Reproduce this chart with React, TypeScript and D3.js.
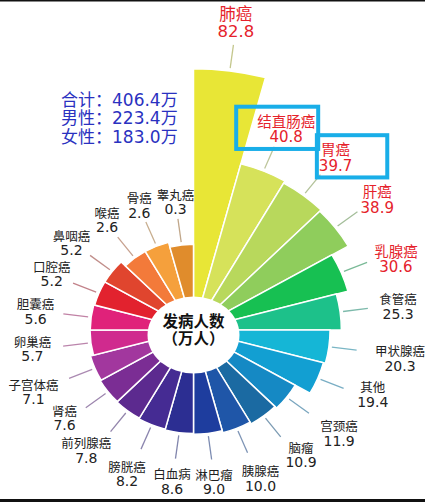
import React from 'react';
import * as d3 from 'd3';

const categories = ['肺癌','结直肠癌','胃癌','肝癌','乳腺癌','食管癌','甲状腺癌','其他','宫颈癌','脑瘤','胰腺癌','淋巴瘤','白血病','膀胱癌','前列腺癌','肾癌','子宫体癌','卵巢癌','胆囊癌','口腔癌','鼻咽癌','喉癌','骨癌','睾丸癌'];
const values = [82.8,40.8,39.7,38.9,30.6,25.3,20.3,19.4,11.9,10.9,10.0,9.0,8.6,8.2,7.8,7.6,7.1,5.7,5.6,5.2,5.2,2.6,2.6,0.3];
const colors = ['#e8e636','#d6e25a','#b8d85c','#8fcd5c','#17c052','#1dc18a','#15b6d6','#129fd2','#1589c4','#1b6aa2','#1f56a8','#1e3d9e','#2c2e92','#452b93','#5c2a8f','#7b2d94','#a2379e','#d02a8e','#e0227a','#e2222e','#e0452e','#f37a3a','#f5a03c','#e08c2c'];
const redLabels = ['肺癌','结直肠癌','胃癌','肝癌','乳腺癌'];
const boxedLabels = ['结直肠癌','胃癌'];
const summaryNames = ['合计','男性','女性'];
const summaryValues = [406.4, 223.4, 183.0];
const centerTitle = ['发病人数','（万人）'];

const W = 425, H = 502, CX = 193.5, CY = 330, SY = 0.94;
const FONT = "'DejaVu Sans','Noto Sans CJK SC',sans-serif";

// hand-placed label adjustments (layout only)
const labelNudge: Record<string, [number, number]> = {
  '肺癌': [0, -5], '结直肠癌': [2, 5.5], '胃癌': [1, 1], '肝癌': [1, 2], '乳腺癌': [3.5, 7],
  '食管癌': [8, 1], '甲状腺癌': [15, 5], '其他': [9, -1.5], '宫颈癌': [10, 6], '脑瘤': [6.5, 1.5],
  '胰腺癌': [4.5, 7], '淋巴瘤': [0, 5.5], '白血病': [-1, 6], '膀胱癌': [-5.5, 6], '前列腺癌': [-7, -2],
  '肾癌': [-5, -1], '子宫体癌': [-7.5, 3], '卵巢癌': [-8.5, 0.5], '胆囊癌': [-5.5, 0.5], '口腔癌': [1.5, 0],
  '鼻咽癌': [1.5, 2.5], '喉癌': [2, -1.5], '骨癌': [1, 1], '睾丸癌': [0, 0.5],
};
// annotation box padding: [left, right]
const boxPad: Record<string, [number, number]> = { '结直肠癌': [21, 3], '胃癌': [2, 35] };

function numWidth(s: string, f: number) {
  let w = 0;
  for (const ch of s) w += ch === '.' ? 0.318 * f : 0.636 * f;
  return w;
}

export default function App() {
  const angle = d3.scaleBand<string>().domain(categories).range([0, 2 * Math.PI]).padding(0);
  const radius = d3.scaleLinear().domain([0, d3.max(values) as number]).range([90.6, 278]);
  const data = categories.map((name, i) => ({ name, value: values[i], color: colors[i] }));
  const arc = d3.arc<any>()
    .innerRadius(30)
    .outerRadius((d: any) => radius(d.value))
    .startAngle((d: any) => angle(d.name) as number)
    .endAngle((d: any) => (angle(d.name) as number) + angle.bandwidth());
  const fmt = d3.format('.1f');

  const labels = data.map((d, i) => {
    const th = (angle(d.name) as number) + angle.bandwidth() / 2;
    const ux = Math.sin(th), uy = -Math.cos(th);
    const r = radius(d.value);
    const isLung = i === 0;
    const red = redLabels.includes(d.name);
    const fn = isLung ? 16.5 : red ? 14.5 : 12.5;
    const fv = isLung ? 16.5 : red ? 15 : 14;
    const sp = isLung ? 17.5 : red ? 15.5 : 14;
    const vs = fmt(d.value);
    const nameW = d.name.length * fn;
    const valW = numWidth(vs, fv);
    const halfW = Math.max(nameW, valW) / 2;
    const off = 30 + halfW * Math.abs(ux) + 14 * Math.abs(uy);
    const [nx, ny] = labelNudge[d.name] || [0, 0];
    const lx = CX + (r + off) * ux + nx;
    const ly = CY + (r + off) * uy * SY + ny;
    const line = {
      x1: (r + 3) * ux, y1: (r + 3) * uy,
      x2: (r + 28) * ux, y2: (r + 28) * uy,
    };
    return { ...d, lx, ly, fn, fv, sp, vs, nameW, valW, halfW, red, line, boxed: boxedLabels.includes(d.name) };
  });

  return (
    <svg width={W} height={H} style={{ position: 'absolute', left: 0, top: 0, background: '#fff' }} fontFamily={FONT}>
      <rect x={0} y={0} width={W} height={H} fill="#fff" />
      <rect x={0} y={0} width={W} height={1.5} fill="#111" />
      <rect x={0} y={499} width={W} height={3} fill="#111" />
      <g transform={`translate(${CX},${CY}) scale(1,${SY})`}>
        {data.map(d => (
          <path key={d.name} d={arc(d) as string} fill={d.color} stroke="#fff" strokeWidth={1.5} vectorEffect="non-scaling-stroke" />
        ))}
        {labels.map(l => (
          <line key={l.name} x1={l.line.x1} y1={l.line.y1} x2={l.line.x2} y2={l.line.y2}
            stroke={d3.interpolateRgb(l.color, '#b0b6bc')(0.65)} strokeWidth={1.3} vectorEffect="non-scaling-stroke" />
        ))}
      </g>
      <ellipse cx={CX} cy={335} rx={46} ry={38.5} fill="#fff" />
      {centerTitle.map((t, i) => (
        <text key={t} x={CX} y={321.5 + i * 17} textAnchor="middle" dominantBaseline="central" fontSize={15.5} fontWeight="bold" fill="#111">{t}</text>
      ))}
      {labels.map(l => {
        const fill = l.red ? '#e5222b' : '#222';
        const pad = boxPad[l.name] || [8, 8];
        const w = Math.max(l.nameW, l.valW);
        return (
          <g key={l.name}>
            <text x={l.lx} y={l.ly - l.sp / 2} textAnchor="middle" dominantBaseline="central" fontSize={l.fn} fill={fill}>{l.name}</text>
            <text x={l.lx} y={l.ly + l.sp / 2} textAnchor="middle" dominantBaseline="central" fontSize={l.fv} fill={fill}>{l.vs}</text>
            {l.boxed && (
              <rect x={l.lx - w / 2 - pad[0]} y={l.ly - l.sp / 2 - l.fn / 2 - 8}
                width={w + pad[0] + pad[1]} height={l.sp + l.fn / 2 + l.fv / 2 + 12}
                fill="none" stroke="#19aee8" strokeWidth={4} />
            )}
          </g>
        );
      })}
      {summaryNames.map((n, i) => (
        <text key={n} x={61} y={105.5 + i * 18.5} fontSize={17} fill="#2a31c0">{`${n}：${fmt(summaryValues[i])}万`}</text>
      ))}
    </svg>
  );
}
